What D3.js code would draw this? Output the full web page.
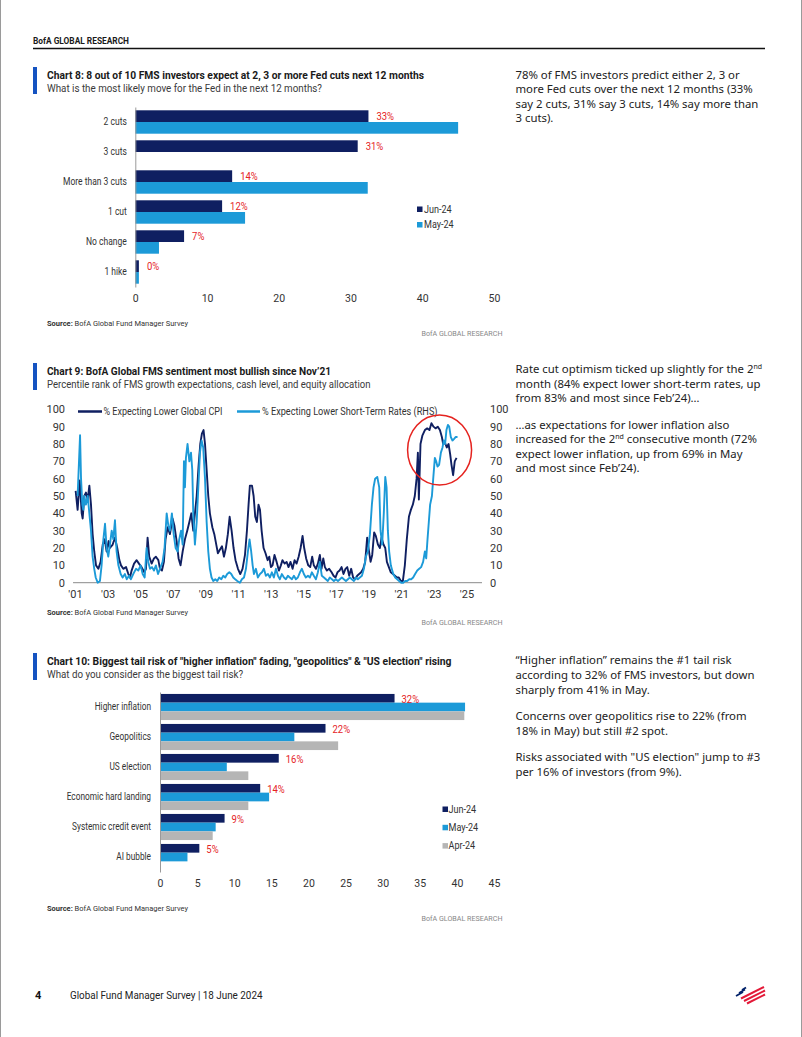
<!DOCTYPE html>
<html><head><meta charset="utf-8">
<script src="https://cdn.jsdelivr.net/npm/d3@7"></script>
<style>body{margin:0;background:#fff}svg{display:block}</style>
</head><body>
<svg id="page" width="802" height="1037"></svg>
<script>
// ---------------- DATA ----------------
const fedCategories = ["2 cuts","3 cuts","More than 3 cuts","1 cut","No change","1 hike"];
const fedSeries = ["Jun-24","May-24"];
const fedJun = [32.5,31,13.5,12.1,6.8,0.5];
const fedMay = [45,0,32.4,15.3,3.3,0.5];
const fedLabels = ["33%","31%","14%","12%","7%","0%"];
const fedTicks = [0,10,20,30,40,50];

const riskCategories = ["Higher inflation","Geopolitics","US election","Economic hard landing","Systemic credit event","AI bubble"];
const riskSeries = ["Jun-24","May-24","Apr-24"];
const riskJun = [31.6,22.3,16,13.5,8.7,5.3];
const riskMay = [41.1,18.1,9,14.7,7.5,3.7];
const riskApr = [41,24,11.9,11.9,7.1,0];
const riskLabels = ["32%","22%","16%","14%","9%","5%"];
const riskTicks = [0,5,10,15,20,25,30,35,40,45];

const yearTicks = [2001,2003,2005,2007,2009,2011,2013,2015,2017,2019,2021,2023,2025];
const yearLabels = ["'01","'03","'05","'07","'09","'11","'13","'15","'17","'19","'21","'23","'25"];
const pctTicks = [0,10,20,30,40,50,60,70,80,90,100];
const seriesNames = ["% Expecting Lower Global CPI","% Expecting Lower Short-Term Rates (RHS)"];

// % expecting lower global CPI  [decimal year, value]
const cpiSeries = [
[2001.04,53],[2001.16,42],[2001.29,59],[2001.41,40],[2001.47,37],[2001.57,50],[2001.67,52],[2001.78,48],[2001.88,56],[2001.98,45],
[2002.08,28],[2002.18,18],[2002.29,10],[2002.43,8],[2002.57,12],[2002.70,22],[2002.82,25],[2002.94,18],[2003.06,24],[2003.14,20],
[2003.31,22],[2003.45,26],[2003.59,20],[2003.72,13],[2003.82,10],[2003.96,8],[2004.13,9],[2004.27,5],[2004.37,3],[2004.47,7],
[2004.62,11],[2004.78,13],[2004.92,11],[2005.08,9],[2005.25,6],[2005.35,8],[2005.45,26],[2005.55,15],[2005.70,11],[2005.84,14],
[2005.96,15],[2006.11,13],[2006.21,8],[2006.33,7],[2006.45,12],[2006.55,25],[2006.68,32],[2006.82,28],[2006.98,37],[2007.09,33],
[2007.23,24],[2007.35,14],[2007.47,10],[2007.60,18],[2007.74,25],[2007.88,30],[2008.01,35],[2008.13,40],[2008.25,30],[2008.33,38],
[2008.46,50],[2008.58,68],[2008.68,80],[2008.78,86],[2008.88,88],[2008.97,80],[2009.07,65],[2009.17,50],[2009.27,40],[2009.42,32],
[2009.54,28],[2009.66,22],[2009.76,17],[2009.88,19],[2010.01,21],[2010.13,15],[2010.25,20],[2010.37,28],[2010.48,38],[2010.60,30],
[2010.72,20],[2010.84,13],[2010.99,8],[2011.13,5],[2011.27,8],[2011.42,16],[2011.54,30],[2011.64,45],[2011.72,56],[2011.85,56],
[2011.95,50],[2012.05,38],[2012.15,35],[2012.25,45],[2012.34,42],[2012.44,30],[2012.56,20],[2012.68,17],[2012.81,13],[2012.91,15],
[2013.01,9],[2013.11,10],[2013.23,16],[2013.36,12],[2013.50,7],[2013.62,10],[2013.72,13],[2013.85,11],[2013.97,12],[2014.09,9],
[2014.21,12],[2014.34,8],[2014.46,13],[2014.58,11],[2014.71,15],[2014.83,20],[2014.95,27],[2015.05,20],[2015.17,14],[2015.30,10],
[2015.42,9],[2015.54,15],[2015.64,10],[2015.77,8],[2015.89,11],[2016.01,16],[2016.11,8],[2016.22,14],[2016.32,9],[2016.44,7],
[2016.58,8],[2016.73,6],[2016.85,4],[2016.97,3],[2017.09,6],[2017.22,7],[2017.34,9],[2017.46,5],[2017.58,8],[2017.69,9],
[2017.81,4],[2017.93,8],[2018.05,3],[2018.18,2],[2018.30,4],[2018.42,5],[2018.54,6],[2018.67,8],[2018.79,12],[2018.91,26],
[2019.01,19],[2019.12,12],[2019.22,16],[2019.34,29],[2019.44,27],[2019.57,22],[2019.69,20],[2019.79,26],[2019.91,22],[2020.02,20],
[2020.12,12],[2020.24,9],[2020.36,6],[2020.49,5],[2020.61,4],[2020.73,3],[2020.85,3],[2020.98,1],[2021.10,1],[2021.22,10],
[2021.34,25],[2021.47,38],[2021.59,42],[2021.71,45],[2021.83,50],[2021.94,60],[2022.02,75],[2022.08,48],[2022.18,80],[2022.30,85],
[2022.45,88],[2022.59,89],[2022.73,88],[2022.85,92],[2022.98,90],[2023.10,89],[2023.24,90],[2023.37,88],[2023.49,84],[2023.57,80],
[2023.67,81],[2023.79,78],[2023.90,80],[2024.00,74],[2024.08,68],[2024.18,62],[2024.28,70],[2024.39,72]
];
// % expecting lower short-term rates (RHS)  [decimal year, value]
const ratesSeries = [
[2001.16,50],[2001.31,85],[2001.37,60],[2001.45,45],[2001.51,42],[2001.57,50],[2001.67,45],[2001.78,50],[2001.88,40],[2001.98,30],
[2002.08,15],[2002.18,8],[2002.27,3],[2002.39,0],[2002.53,1],[2002.63,10],[2002.74,25],[2002.84,34],[2002.94,20],[2003.04,15],
[2003.14,22],[2003.25,30],[2003.35,25],[2003.45,36],[2003.55,18],[2003.66,10],[2003.80,5],[2003.92,3],[2004.06,5],[2004.17,2],
[2004.31,4],[2004.43,2],[2004.57,5],[2004.74,8],[2004.88,7],[2005.02,10],[2005.15,5],[2005.27,3],[2005.39,20],[2005.49,12],
[2005.60,8],[2005.72,9],[2005.84,7],[2005.96,10],[2006.09,5],[2006.21,8],[2006.37,12],[2006.49,20],[2006.62,40],[2006.72,33],
[2006.82,30],[2006.94,40],[2007.05,28],[2007.17,20],[2007.29,18],[2007.39,25],[2007.50,30],[2007.60,22],[2007.68,70],[2007.74,55],
[2007.80,72],[2007.90,80],[2008.01,70],[2008.11,75],[2008.19,65],[2008.25,40],[2008.35,22],[2008.46,35],[2008.56,55],[2008.66,75],
[2008.76,82],[2008.86,78],[2008.97,60],[2009.07,35],[2009.17,18],[2009.27,8],[2009.37,3],[2009.48,1],[2009.60,2],[2009.72,1],
[2009.84,3],[2009.97,2],[2010.09,4],[2010.21,3],[2010.33,5],[2010.46,6],[2010.58,5],[2010.70,3],[2010.82,2],[2010.95,1],
[2011.11,0],[2011.23,2],[2011.36,3],[2011.48,8],[2011.60,18],[2011.70,25],[2011.80,18],[2011.89,10],[2011.97,5],[2012.09,8],
[2012.21,3],[2012.34,5],[2012.46,6],[2012.58,8],[2012.70,4],[2012.83,5],[2012.95,3],[2013.07,6],[2013.19,3],[2013.32,8],
[2013.44,4],[2013.56,2],[2013.68,5],[2013.81,3],[2013.93,2],[2014.05,4],[2014.17,3],[2014.30,2],[2014.42,4],[2014.54,2],
[2014.66,3],[2014.79,6],[2014.91,8],[2015.03,5],[2015.15,3],[2015.28,4],[2015.40,3],[2015.52,6],[2015.64,4],[2015.77,2],
[2015.89,6],[2016.01,12],[2016.13,4],[2016.26,3],[2016.38,2],[2016.50,1],[2016.62,3],[2016.75,2],[2016.87,1],[2016.99,2],
[2017.12,1],[2017.24,2],[2017.36,3],[2017.48,2],[2017.61,1],[2017.73,2],[2017.85,3],[2017.97,2],[2018.10,1],[2018.22,3],
[2018.34,2],[2018.46,3],[2018.59,4],[2018.71,8],[2018.83,15],[2018.95,18],[2019.08,28],[2019.20,45],[2019.30,55],[2019.40,60],
[2019.53,61],[2019.65,55],[2019.73,30],[2019.83,22],[2019.93,40],[2020.02,61],[2020.10,55],[2020.18,30],[2020.26,18],[2020.36,10],
[2020.51,5],[2020.63,3],[2020.75,2],[2020.87,1],[2021.00,0],[2021.12,0],[2021.24,1],[2021.36,1],[2021.49,2],[2021.61,2],
[2021.73,3],[2021.85,5],[2021.98,7],[2022.10,8],[2022.22,9],[2022.34,12],[2022.45,18],[2022.53,14],[2022.61,25],[2022.69,35],
[2022.77,45],[2022.88,50],[2022.96,60],[2023.06,72],[2023.14,70],[2023.22,67],[2023.32,68],[2023.43,75],[2023.53,78],[2023.61,82],
[2023.69,80],[2023.77,88],[2023.86,91],[2023.94,90],[2024.04,84],[2024.14,82],[2024.24,83],[2024.33,84],[2024.45,84]
];

const text1 = ["78% of FMS investors predict either 2, 3 or","more Fed cuts over the next 12 months (33%","say 2 cuts, 31% say 3 cuts, 14% say more than","3 cuts)."];
const text2a = [["Rate cut optimism ticked up slightly for the 2","nd",""],["month (84% expect lower short-term rates, up"],["from 83% and most since Feb’24)…"]];
const text2b = [["…as expectations for lower inflation also"],["increased for the 2","nd"," consecutive month (72%"],["expect lower inflation, up from 69% in May"],["and most since Feb’24)."]];
const text3a = ["“Higher inflation” remains the #1 tail risk","according to 32% of FMS investors, but down","sharply from 41% in May."];
const text3b = ["Concerns over geopolitics rise to 22% (from","18% in May) but still #2 spot."];
const text3c = ["Risks associated with \"US election\" jump to #3","per 16% of investors (from 9%)."];

// ---------------- STYLE ----------------
const CH = "'Roboto',sans-serif";
const BODY = "'Noto Sans','Open Sans',sans-serif";
const NAVY = "#0f1f61", CYAN = "#1c9ad8", GREY = "#b5b5b5", RED = "#e5231f", BLUE = "#1553c1";

const svg = d3.select("#page");

function txt(g, x, y, s, o = {}) {
  const t = g.append("text").attr("x", x).attr("y", y)
    .attr("font-family", o.family || CH).attr("font-size", o.size || 10)
    .attr("font-weight", o.weight || "normal").attr("fill", o.fill || "#222")
    .attr("text-anchor", o.anchor || "start");
  if (s !== null) t.text(s);
  if (o.width) t.attr("textLength", o.width).attr("lengthAdjust", "spacingAndGlyphs");
  return t;
}
// emulate the condensed face of the original
function condense(sel, k) {
  sel.each(function() {
    const w = this.getComputedTextLength();
    d3.select(this).attr("textLength", w * k).attr("lengthAdjust", "spacingAndGlyphs");
  });
}

// page frame
svg.append("line").attr("x1",0.5).attr("x2",0.5).attr("y1",0).attr("y2",1037).attr("stroke","#9a9a9a");
svg.append("line").attr("x1",801.5).attr("x2",801.5).attr("y1",0).attr("y2",1037).attr("stroke","#9a9a9a");

// header
txt(svg, 33, 43.5, "BofA GLOBAL RESEARCH", {size: 8.5, weight: "bold", fill: "#1a1a1a", width: 96});
svg.append("line").attr("x1",33).attr("x2",765).attr("y1",48.5).attr("y2",48.5).attr("stroke","#111").attr("stroke-width",1.5);

function chartHead(top, title, tw, sub, sw) {
  svg.append("rect").attr("x",33).attr("y",top).attr("width",4).attr("height",27).attr("fill",BLUE);
  txt(svg, 47, top + 11.5, title, {size: 11.5, weight: "bold", fill: "#1a1a1a", width: tw});
  txt(svg, 47, top + 25, sub, {size: 11, fill: "#3a3a3a", width: sw});
}
function chartFoot(y) {
  const t = txt(svg, 47, y, null, {size: 8, fill: "#333", width: 141});
  t.append("tspan").attr("font-weight","bold").text("Source:");
  t.append("tspan").text(" BofA Global Fund Manager Survey");
  txt(svg, 502.5, y + 10.5, "BofA GLOBAL RESEARCH", {size: 8, fill: "#888", anchor: "end", width: 81});
}

// ---------------- CHART 8 ----------------
chartHead(67, "Chart 8: 8 out of 10 FMS investors expect at 2, 3 or more Fed cuts next 12 months", 377,
  "What is the most likely move for the Fed in the next 12 months?", 275);
{
  const x = d3.scaleLinear().domain([0,50]).range([135.3,494]);
  const y = d3.scaleBand().domain(fedCategories).range([107,287]).paddingInner(0.22).paddingOuter(0.11);
  const s = d3.scaleBand().domain(fedSeries).range([0, y.bandwidth()]);
  const vals = [fedJun, fedMay], cols = [NAVY, CYAN];
  const g = svg.append("g");
  fedSeries.forEach((ser, si) => {
    g.selectAll(null).data(fedCategories).enter().append("rect")
      .attr("x", x(0)).attr("y", c => y(c) + s(ser))
      .attr("width", (c, i) => x(vals[si][i]) - x(0)).attr("height", s.bandwidth())
      .attr("fill", cols[si]);
  });
  const lab = g.selectAll(null).data(fedCategories).enter().append("text")
    .attr("x", (c, i) => x(fedJun[i]) + 8).attr("y", c => y(c) + s("Jun-24") + s.bandwidth()/2)
    .attr("dy","0.34em").attr("font-family",CH).attr("font-size",11).attr("fill",RED)
    .text((c, i) => fedLabels[i]);
  condense(lab, 0.86);
  const ya = g.append("g").attr("transform",`translate(${x(0)},0)`)
    .call(d3.axisLeft(y).tickSize(0).tickPadding(8.5).tickSizeOuter(0));
  ya.select(".domain").attr("stroke","#9a9a9a");
  ya.selectAll("text").attr("font-family",CH).attr("font-size",10.5).attr("fill","#333");
  condense(ya.selectAll("text"), 0.81);
  const xa = g.append("g").attr("transform","translate(0,292)")
    .call(d3.axisBottom(x).tickValues(fedTicks).tickSize(0).tickPadding(3));
  xa.select(".domain").remove();
  xa.selectAll("text").attr("font-family",CH).attr("font-size",10.5).attr("fill","#333");
  fedSeries.forEach((ser, i) => {
    g.append("rect").attr("x",417).attr("y",206.5 + i*15.5).attr("width",5.5).attr("height",5.5).attr("fill",cols[i]);
    condense(txt(g, 424, 212.7 + i*15.5, ser, {size: 10.5, fill: "#333"}), 0.86);
  });
}
chartFoot(325.5);

// ---------------- CHART 9 ----------------
chartHead(363, "Chart 9: BofA Global FMS sentiment most bullish since Nov’21", 284,
  "Percentile rank of FMS growth expectations, cash level, and equity allocation", 323.5);
{
  const x = d3.scaleLinear().domain([2001,2025]).range([75,466.5]);
  const yL = d3.scaleLinear().domain([0,100]).range([582.7,409.3]);
  const yR = d3.scaleLinear().domain([0,100]).range([582.7,409.3]);
  const g = svg.append("g");
  g.append("line").attr("x1", x(2000.88)).attr("x2", x(2025.95)).attr("y1", yL(0)).attr("y2", yL(0))
    .attr("stroke","#8a8a8a").attr("stroke-width",1);
  const yl = g.append("g").attr("transform","translate(69,0)")
    .call(d3.axisLeft(yL).tickValues(pctTicks).tickSize(0).tickPadding(4));
  yl.select(".domain").remove();
  const yr = g.append("g").attr("transform","translate(486,0)")
    .call(d3.axisRight(yR).tickValues(pctTicks).tickSize(0).tickPadding(4));
  yr.select(".domain").remove();
  const xa = g.append("g").attr("transform",`translate(0,${yL(0)+5})`)
    .call(d3.axisBottom(x).tickValues(yearTicks).tickFormat((d, i) => yearLabels[i]).tickSize(0).tickPadding(3));
  xa.select(".domain").remove();
  g.selectAll(".tick text").attr("font-family",CH).attr("font-size",11).attr("fill","#333");

  const line = d3.line().x(d => x(d[0]));
  g.append("path").datum(cpiSeries).attr("fill","none").attr("stroke",NAVY).attr("stroke-width",1.9)
    .attr("stroke-linejoin","round").attr("d", line.y(d => yL(d[1])));
  g.append("path").datum(ratesSeries).attr("fill","none").attr("stroke",CYAN).attr("stroke-width",1.9)
    .attr("stroke-linejoin","round").attr("d", d3.line().x(d => x(d[0])).y(d => yR(d[1])));

  g.append("line").attr("x1",78).attr("x2",102).attr("y1",411.5).attr("y2",411.5).attr("stroke",NAVY).attr("stroke-width",2.5);
  txt(g, 103.5, 415, seriesNames[0], {size: 10.5, fill: "#333", width: 119});
  g.append("line").attr("x1",237).attr("x2",260).attr("y1",411.5).attr("y2",411.5).attr("stroke",CYAN).attr("stroke-width",2.5);
  txt(g, 262, 415, seriesNames[1], {size: 10.5, fill: "#333", width: 175.5});

  g.append("ellipse").attr("cx", x(2023.35)).attr("cy", yL(76.5)).attr("rx",32).attr("ry",35)
    .attr("fill","none").attr("stroke",RED).attr("stroke-width",1.5);
}
chartFoot(614.5);

// ---------------- CHART 10 ----------------
chartHead(653, "Chart 10: Biggest tail risk of \"higher inflation\" fading, \"geopolitics\" & \"US election\" rising", 404.5,
  "What do you consider as the biggest tail risk?", 196);
{
  const x = d3.scaleLinear().domain([0,45]).range([160,494]);
  const y = d3.scaleBand().domain(riskCategories).range([692,872]).paddingInner(0.13).paddingOuter(0.065);
  const s = d3.scaleBand().domain(riskSeries).range([0, y.bandwidth()]);
  const vals = [riskJun, riskMay, riskApr], cols = [NAVY, CYAN, GREY];
  const g = svg.append("g");
  riskSeries.forEach((ser, si) => {
    g.selectAll(null).data(riskCategories).enter().append("rect")
      .attr("x", x(0)).attr("y", c => y(c) + s(ser))
      .attr("width", (c, i) => x(vals[si][i]) - x(0)).attr("height", s.bandwidth())
      .attr("fill", cols[si]);
  });
  const lab = g.selectAll(null).data(riskCategories).enter().append("text")
    .attr("x", (c, i) => x(riskJun[i]) + 7).attr("y", c => y(c) + s("Jun-24") + s.bandwidth()/2)
    .attr("dy","0.4em").attr("font-family",CH).attr("font-size",11).attr("fill",RED)
    .text((c, i) => riskLabels[i]);
  condense(lab, 0.86);
  const ya = g.append("g").attr("transform",`translate(${x(0)},0)`)
    .call(d3.axisLeft(y).tickSize(0).tickPadding(9).tickSizeOuter(0));
  ya.select(".domain").attr("stroke","#9a9a9a");
  ya.selectAll("text").attr("font-family",CH).attr("font-size",10.5).attr("fill","#333");
  condense(ya.selectAll("text"), 0.79);
  const xa = g.append("g").attr("transform","translate(0,877)")
    .call(d3.axisBottom(x).tickValues(riskTicks).tickSize(0).tickPadding(3));
  xa.select(".domain").remove();
  xa.selectAll("text").attr("font-family",CH).attr("font-size",10.5).attr("fill","#333");
  riskSeries.forEach((ser, i) => {
    g.append("rect").attr("x",442.5).attr("y",806.5 + i*18.3).attr("width",5.5).attr("height",5.5).attr("fill",cols[i]);
    condense(txt(g, 448.5, 812.7 + i*18.3, ser, {size: 10.5, fill: "#333"}), 0.86);
  });
}
chartFoot(910.5);

// ---------------- RIGHT COLUMN TEXT ----------------
function para(lines, x, y0, step) {
  lines.forEach((ln, i) => {
    const t = txt(svg, x, y0 + i*step, null, {family: BODY, size: 11.35, fill: "#222"});
    const parts = Array.isArray(ln) ? ln : [ln];
    parts.forEach((p, j) => {
      if (!p) return;
      const sp = t.append("tspan").text(p);
      if (j === 1) sp.attr("font-size", 7).attr("dy", -4.5);
      if (j === 2) sp.attr("dy", 4.5);
    });
  });
}
para(text1, 515.5, 78.5, 14.5);
para(text2a, 515.5, 373, 14.5);
para(text2b, 515.5, 428.5, 14.5);
para(text3a, 515.5, 664, 15);
para(text3b, 515.5, 720, 15);
para(text3c, 515.5, 761, 15);

// ---------------- FOOTER ----------------
txt(svg, 35, 999, "4", {size: 11, weight: "bold", fill: "#111"});
txt(svg, 70, 999, "Global Fund Manager Survey | 18 June 2024", {size: 11, fill: "#222", width: 192.5});
{
  const lg = svg.append("g").attr("transform","translate(733,985)");
  const blue = [[[9,5],[13,2.5]],[[6,8],[12,4.5]],[[3,11],[10,7]]];
  blue.forEach(l => lg.append("line").attr("x1",l[0][0]).attr("y1",l[0][1]).attr("x2",l[1][0]).attr("y2",l[1][1])
    .attr("stroke","#012169").attr("stroke-width",1.8));
  const red = [[[8,13.5],[31,2]],[[11,16],[32,5.5]],[[14,18.5],[32,9.5]]];
  red.forEach(l => lg.append("line").attr("x1",l[0][0]).attr("y1",l[0][1]).attr("x2",l[1][0]).attr("y2",l[1][1])
    .attr("stroke","#e31837").attr("stroke-width",2));
}
</script>
</body></html>
